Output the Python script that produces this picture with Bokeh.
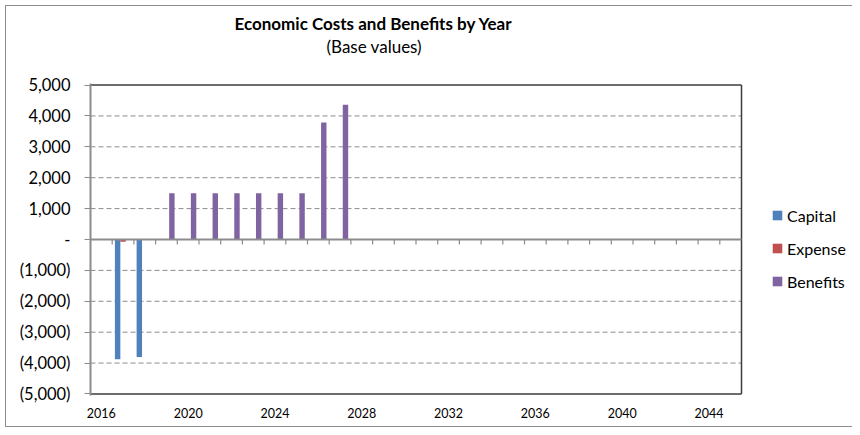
from bokeh.plotting import figure
from bokeh.models import FixedTicker, Range1d, Legend, LegendItem, Title, ColumnDataSource
from bokeh.embed import file_html
from bokeh.resources import INLINE

# ---- data ----
years = list(range(2016, 2046))
capital = [0, -3880, -3800] + [0] * 27
expense = [0, -70, 0] + [0] * 27
benefits = [0, 0, 0, 1500, 1500, 1500, 1500, 1500, 1500, 1500, 3790, 4360] + [0] * 18
x_label_years = [2016, 2020, 2024, 2028, 2032, 2036, 2040, 2044]
y_ticks = [5000, 4000, 3000, 2000, 1000, 0, -1000, -2000, -3000, -4000, -5000]
y_tick_labels = ["5,000", "4,000", "3,000", "2,000", "1,000", "-", "(1,000)", "(2,000)", "(3,000)", "(4,000)", "(5,000)"]
series_names = ["Capital", "Expense", "Benefits"]
colors = ["#4F81BD", "#C0504D", "#8064A2"]
title_text = "Economic Costs and Benefits by Year"
subtitle_text = "(Base values)"

FONT = "Lato"
n = len(years)
idx = list(range(n))
ymin, ymax = y_ticks[-1], y_ticks[0]

# layout (pixels)
W, H = 852, 427
left, top, bottom = 90, 83, 32
plot_w = 651                      # width of the visible plot area
frame_w = W - left                # frame extends right to hold the legend
pad = 50                          # small y padding so frame lines are not clipped
x_end = n * frame_w / plot_w

p = figure(width=W, height=H, output_backend="svg", toolbar_location=None, title=None,
           x_range=Range1d(0, x_end), y_range=Range1d(ymin - pad, ymax + pad),
           min_border_left=left, min_border_right=0, min_border_top=top, min_border_bottom=bottom)
p.border_fill_alpha = 0
g = "linear-gradient(#8c8c8c, #8c8c8c)"
p.styles = {"background-color": "white",
            "background-image": f"{g}, {g}, {g}",
            "background-size": "1px 100%, 100% 1px, 100% 1px",
            "background-position": "5px 5px, 5px 5px, 5px 426px",
            "background-repeat": "no-repeat"}
p.outline_line_color = None
p.xgrid.visible = False
p.ygrid.visible = False

# dashed horizontal gridlines inside plot area
inner = [t for t in y_ticks if ymin < t < ymax]
p.segment(x0=[0] * len(inner), y0=inner, x1=[n] * len(inner), y1=inner,
          line_color="#8c8c8c", line_width=1, line_dash="5 3")

# bars: clustered, 3 per category, bar width = 1/4 of category
bw = 0.25
offsets = [-bw, 0.0, bw]
legend_items = []
for name, vals, off, col in zip(series_names, [capital, expense, benefits], offsets, colors):
    src = ColumnDataSource(dict(left=[i + 0.5 + off - bw / 2 for i in idx],
                                right=[i + 0.5 + off + bw / 2 for i in idx],
                                top=vals, bottom=[0] * n))
    r = p.quad(left="left", right="right", top="top", bottom="bottom", source=src,
               fill_color=col, line_color=None)
    legend_items.append(LegendItem(label=name, renderers=[r]))

# plot-area border (top, right, bottom)
p.segment(x0=[0, n, 0], y0=[ymax, ymin, ymin], x1=[n, n, n], y1=[ymax, ymax, ymin],
          line_color="#3c3c3c", line_width=1.5)

# horizontal axis line at zero with tick marks between categories
p.segment(x0=[0], y0=[0], x1=[n], y1=[0], line_color="#8c8c8c", line_width=2)
tick_len = 5 / (312 / (ymax - ymin + 2 * pad))
p.segment(x0=list(range(1, n)), y0=[0] * (n - 1), x1=list(range(1, n)), y1=[-tick_len] * (n - 1),
          line_color="#8c8c8c", line_width=1.2)

# y axis
p.yaxis.ticker = FixedTicker(ticks=y_ticks)
p.yaxis.major_label_overrides = {t: l for t, l in zip(y_ticks, y_tick_labels)}
p.yaxis.axis_line_color = "#8c8c8c"
p.yaxis.axis_line_width = 2
p.yaxis.major_tick_line_color = "#8c8c8c"
p.yaxis.major_tick_in = 0
p.yaxis.major_tick_out = 6
p.yaxis.minor_tick_line_color = None
p.yaxis.major_label_standoff = 14
p.yaxis.major_label_text_font = FONT
p.yaxis.major_label_text_font_size = "16.5px"
p.yaxis.major_label_text_color = "#000000"

# x axis: labels only at bottom
xt = [years.index(y) + 0.5 for y in x_label_years]
p.xaxis.ticker = FixedTicker(ticks=xt)
p.xaxis.major_label_overrides = {t: str(y) for t, y in zip(xt, x_label_years)}
p.xaxis.axis_line_color = None
p.xaxis.major_tick_line_color = None
p.xaxis.minor_tick_line_color = None
p.xaxis.major_label_standoff = 6
p.xaxis.major_label_text_font = FONT
p.xaxis.major_label_text_font_size = "12.5px"
p.xaxis.major_label_text_color = "#000000"

# titles (first added sits closest to the frame)
spacer = Title(text=" ", text_font_size="1px", standoff=24)
sub = Title(text=subtitle_text, align="left", offset=236, standoff=0,
            text_font=FONT, text_font_size="17px", text_font_style="normal", text_color="#000000")
main = Title(text=title_text, align="left", offset=144, standoff=0,
             text_font=FONT, text_font_size="17px", text_font_style="bold", text_color="#000000")
p.add_layout(spacer, "above")
p.add_layout(sub, "above")
p.add_layout(main, "above")

legend = Legend(items=legend_items, location=(681, 104), orientation="vertical")
legend.border_line_alpha = 0
legend.background_fill_alpha = 0
legend.padding = 0
legend.margin = 0
legend.spacing = 13
legend.glyph_width = 12
legend.glyph_height = 12
legend.label_height = 20
legend.label_standoff = 4
legend.label_text_font = FONT
legend.label_text_font_size = "16px"
legend.label_text_color = "#000000"
p.add_layout(legend, "center")

open("out.html", "w").write(file_html(p, INLINE))
